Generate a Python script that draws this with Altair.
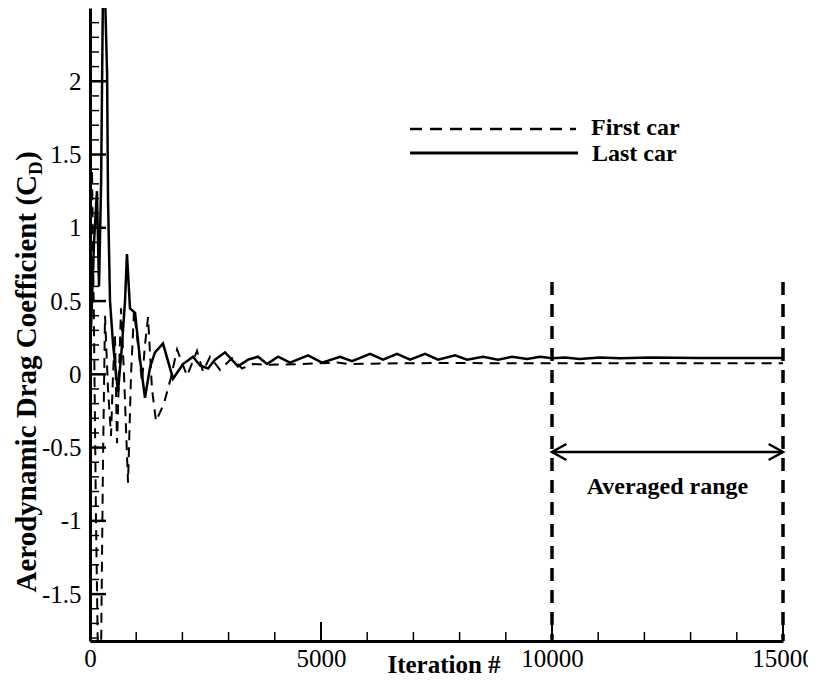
import altair as alt
import pandas as pd

# ---------------- data ----------------
first_car_iter = [0, 43, 87, 130, 173, 238, 281, 325, 390, 455, 498, 541, 585, 628, 671,
                  736, 823, 888, 953, 1040, 1126, 1190, 1256, 1342, 1429, 1600, 1754, 1884,
                  2100, 2317, 2446, 2598, 2815, 3074, 3291, 3529, 3897, 4547, 5348, 5629,
                  6712, 7794, 8877, 10003, 11040, 13200, 15000]
first_car_cd = [0.5, 1.4, 0.3, -1.0, -1.95, -1.95, -0.6, 0.40, -0.1, -0.42, 0.0, 0.26, -0.47, 0.0, 0.45,
                0.0, -0.74, 0.0, 0.43, 0.2, -0.05, 0.2, 0.39, -0.1, -0.32, -0.2, -0.02, 0.17,
                -0.01, 0.16, 0.02, 0.12, 0.03, 0.11, 0.04, 0.07, 0.065, 0.07, 0.08, 0.07,
                0.075, 0.078, 0.075, 0.076, 0.075, 0.075, 0.075]

last_car_iter = [20, 87, 150, 195, 240, 280, 325, 370, 390, 433, 500, 606, 693, 758, 800,
                 866, 975, 1083, 1190, 1300, 1407, 1580, 1797, 2013, 2230, 2380, 2555, 2706,
                 2923, 3204, 3420, 3637, 3832, 4070, 4330, 4720, 5023, 5413, 5672, 6062,
                 6343, 6646, 6928, 7253, 7534, 7902, 8162, 8508, 8833, 9136, 9461, 9743,
                 10003, 10284, 10600, 11040, 11475, 12125, 13200, 14290, 15000]
last_car_cd = [0.3, 0.9, 1.25, 0.6, 1.3, 2.6, 2.6, 2.05, 1.2, 0.5, 0.2, -0.12, 0.2, 0.5, 0.82,
               0.45, 0.42, 0.1, -0.16, 0.05, 0.15, 0.21, -0.03, 0.07, 0.12, 0.06, 0.04, 0.1,
               0.15, 0.055, 0.1, 0.12, 0.07, 0.12, 0.08, 0.13, 0.08, 0.12, 0.09, 0.14,
               0.10, 0.14, 0.10, 0.14, 0.10, 0.13, 0.10, 0.12, 0.10, 0.12, 0.105, 0.12,
               0.11, 0.115, 0.105, 0.115, 0.11, 0.115, 0.112, 0.112, 0.112]

series_names = ["First car", "Last car"]

x_label_values = [0, 5000, 10000, 15000]
y_label_values = [-1.5, -1, -0.5, 0, 0.5, 1, 1.5, 2]
x_minor_ticks = [1000, 2000, 3000, 4000, 6000, 7000, 8000, 9000, 11000, 12000, 13000, 14000]
y_minor_ticks = [-1.8, -1.7, -1.6, -1.4, -1.3, -1.2, -1.1, -0.9, -0.8, -0.7, -0.6,
                 -0.4, -0.3, -0.2, -0.1, 0.1, 0.2, 0.3, 0.4, 0.6, 0.7, 0.8, 0.9,
                 1.1, 1.2, 1.3, 1.4, 1.6, 1.7, 1.8, 1.9, 2.1, 2.2, 2.3, 2.4]

x_domain = [0, 15000]
y_domain = [-1.82, 2.5]

averaged_range = [10000, 15000]
range_line_top = 0.63
arrow_level = -0.53
range_label_level = -0.77
range_label = "Averaged range"

y_title_main = "Aerodynamic Drag Coefficient (C"
y_title_sub = "D"
y_title_end = ")"
x_title = "Iteration #"

# ---------------- chart ----------------
W, H = 693, 633
FONT = "Liberation Serif"
xs = alt.Scale(domain=x_domain, nice=False, zero=False)
ys = alt.Scale(domain=y_domain, nice=False, zero=False)

xaxis = alt.Axis(values=x_label_values, labelExpr="'' + datum.value", title=None, ticks=False,
                 grid=False, domainColor="black", domainWidth=3, labelFont=FONT, labelFontSize=25,
                 labelColor="black", labelPadding=5, labelFlush=False, labelOverlap=False)
yaxis = alt.Axis(values=y_label_values, labelExpr="'' + datum.value", title=None, ticks=False,
                 grid=False, domainColor="black", domainWidth=3, labelFont=FONT, labelFontSize=25,
                 labelColor="black", labelPadding=9, labelOverlap=False)

df_first = pd.DataFrame({"iteration": first_car_iter, "cd": first_car_cd})
df_last = pd.DataFrame({"iteration": last_car_iter, "cd": last_car_cd})

first_line = alt.Chart(df_first).mark_line(color="black", strokeWidth=2, strokeDash=[10, 7], clip=True).encode(
    x=alt.X("iteration:Q", scale=xs, axis=xaxis), y=alt.Y("cd:Q", scale=ys, axis=yaxis))
last_line = alt.Chart(df_last).mark_line(color="black", strokeWidth=2.5, clip=True).encode(
    x=alt.X("iteration:Q", scale=xs, axis=xaxis), y=alt.Y("cd:Q", scale=ys, axis=yaxis))

# inward ticks
x_major = alt.Chart(pd.DataFrame({"v": x_label_values})).mark_rule(color="black", strokeWidth=2).encode(
    x=alt.X("v:Q", scale=xs, axis=xaxis), y=alt.value(H), y2=alt.value(H - 19))
x_minor = alt.Chart(pd.DataFrame({"v": x_minor_ticks})).mark_rule(color="black", strokeWidth=1.5).encode(
    x=alt.X("v:Q", scale=xs, axis=xaxis), y=alt.value(H), y2=alt.value(H - 9))
y_major = alt.Chart(pd.DataFrame({"v": y_label_values})).mark_rule(color="black", strokeWidth=2.5).encode(
    y=alt.Y("v:Q", scale=ys, axis=yaxis), x=alt.value(0), x2=alt.value(16))
y_minor = alt.Chart(pd.DataFrame({"v": y_minor_ticks})).mark_rule(color="black", strokeWidth=1.5).encode(
    y=alt.Y("v:Q", scale=ys, axis=yaxis), x=alt.value(0), x2=alt.value(9))

# averaged range annotation
df_range = pd.DataFrame({"x": averaged_range, "top": [range_line_top] * 2, "bottom": [y_domain[0]] * 2})
range_lines = alt.Chart(df_range).mark_rule(color="black", strokeWidth=3.5, strokeDash=[13, 9]).encode(
    x=alt.X("x:Q", scale=xs, axis=xaxis), y=alt.Y("top:Q", scale=ys, axis=yaxis), y2="bottom:Q")
df_arrow = pd.DataFrame({"x1": [averaged_range[0]], "x2": [averaged_range[1]], "y": [arrow_level]})
arrow_line = alt.Chart(df_arrow).mark_rule(color="black", strokeWidth=2.5).encode(
    x=alt.X("x1:Q", scale=xs, axis=xaxis), x2="x2:Q", y=alt.Y("y:Q", scale=ys, axis=yaxis))
head_left = alt.Chart(pd.DataFrame({"x": [averaged_range[0]], "y": [arrow_level]})).mark_point(
    shape="M1.8,-1 L0,0 L1.8,1", size=256, filled=False, color="black", strokeWidth=2.5, opacity=1).encode(
    x=alt.X("x:Q", scale=xs, axis=xaxis), y=alt.Y("y:Q", scale=ys, axis=yaxis))
head_right = alt.Chart(pd.DataFrame({"x": [averaged_range[1]], "y": [arrow_level]})).mark_point(
    shape="M-1.8,-1 L0,0 L-1.8,1", size=256, filled=False, color="black", strokeWidth=2.5, opacity=1).encode(
    x=alt.X("x:Q", scale=xs, axis=xaxis), y=alt.Y("y:Q", scale=ys, axis=yaxis))
df_rlabel = pd.DataFrame({"x": [sum(averaged_range) / 2], "y": [range_label_level], "t": [range_label]})
range_text = alt.Chart(df_rlabel).mark_text(font=FONT, fontSize=24, fontWeight="bold", color="black",
                                            align="center", baseline="middle").encode(
    x=alt.X("x:Q", scale=xs, axis=xaxis), y=alt.Y("y:Q", scale=ys, axis=yaxis), text="t:N")

# legend (drawn)
one = pd.DataFrame({"a": [0]})
leg_dash = alt.Chart(one).mark_rule(color="black", strokeWidth=2.5, strokeDash=[12, 8]).encode(
    x=alt.value(320), x2=alt.value(486), y=alt.value(121))
leg_solid = alt.Chart(one).mark_rule(color="black", strokeWidth=3).encode(
    x=alt.value(320), x2=alt.value(488), y=alt.value(145))
leg_t1 = alt.Chart(one).mark_text(font=FONT, fontSize=24, fontWeight="bold", color="black",
                                  align="left", baseline="middle").encode(
    x=alt.value(501), y=alt.value(120), text=alt.value(series_names[0]))
leg_t2 = alt.Chart(one).mark_text(font=FONT, fontSize=24, fontWeight="bold", color="black",
                                  align="left", baseline="middle").encode(
    x=alt.value(502), y=alt.value(146), text=alt.value(series_names[1]))

# axis titles (drawn, y title with subscript)
yt_main = alt.Chart(one).mark_text(font=FONT, fontSize=29, fontWeight="bold", color="black", angle=270,
                                   align="right", baseline="alphabetic").encode(
    x=alt.value(-54), y=alt.value(167), text=alt.value(y_title_main))
yt_sub = alt.Chart(one).mark_text(font=FONT, fontSize=19, fontWeight="bold", color="black", angle=270,
                                  align="left", baseline="alphabetic").encode(
    x=alt.value(-48), y=alt.value(167), text=alt.value(y_title_sub))
yt_end = alt.Chart(one).mark_text(font=FONT, fontSize=29, fontWeight="bold", color="black", angle=270,
                                  align="left", baseline="alphabetic").encode(
    x=alt.value(-54), y=alt.value(153), text=alt.value(y_title_end))
xt = alt.Chart(one).mark_text(font=FONT, fontSize=25, fontWeight="bold", color="black",
                              align="center", baseline="alphabetic").encode(
    x=alt.value(354), y=alt.value(665), text=alt.value(x_title))

chart = alt.layer(
    first_line, last_line, x_major, x_minor, y_major, y_minor,
    range_lines, arrow_line, head_left, head_right, range_text,
    leg_dash, leg_solid, leg_t1, leg_t2, yt_main, yt_sub, yt_end, xt
).properties(
    width=W, height=H,
    autosize=alt.AutoSizeParams(type="none"),
    padding={"left": 82, "top": 0, "right": 25, "bottom": 38},
    background="white",
).configure_view(stroke=None)

chart.save("out.html", embed_options={"renderer": "svg", "actions": False})
